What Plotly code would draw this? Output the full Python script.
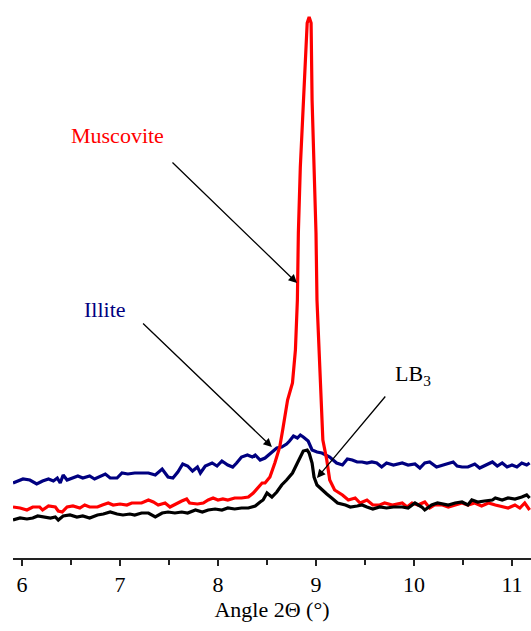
import plotly.graph_objects as go

# ---- data (angle 2theta in degrees, intensity in arbitrary units) ----
illite_x = [5.908, 6.01, 6.08, 6.15, 6.21, 6.27, 6.32, 6.36, 6.39, 6.42, 6.46, 6.52, 6.57, 6.62, 6.69, 6.74,
            6.80, 6.85, 6.90, 6.97, 7.02, 7.08, 7.15, 7.29, 7.36, 7.43, 7.49, 7.54, 7.59, 7.64, 7.69, 7.74,
            7.79, 7.82, 7.87, 7.94, 7.99, 8.04, 8.10, 8.15, 8.19, 8.24, 8.30, 8.35, 8.38, 8.43, 8.48, 8.55,
            8.60, 8.65, 8.70, 8.73, 8.77, 8.81, 8.84, 8.87, 8.92, 8.96, 9.01, 9.06, 9.11, 9.14, 9.21, 9.27,
            9.32, 9.37, 9.42, 9.47, 9.52, 9.57, 9.62, 9.67, 9.72, 9.79, 9.88, 9.94, 10.01, 10.06, 10.11,
            10.16, 10.23, 10.29, 10.35, 10.40, 10.44, 10.49, 10.55, 10.62, 10.67, 10.74, 10.80, 10.85,
            10.90, 10.95, 11.00, 11.05, 11.10, 11.15, 11.18]
illite_y = [75, 79, 78, 74, 77, 79, 77, 80, 75, 83, 78, 80, 82, 80, 82, 79,
            82, 84, 80, 80, 85, 84, 85, 85, 83, 89, 81, 80, 86, 94, 92, 87,
            91, 85, 92, 95, 92, 97, 93, 91, 95, 101, 103, 101, 103, 98, 100, 106,
            110, 111, 114, 117, 122, 120, 123, 121, 117, 108, 106, 105, 103, 101, 95, 93,
            99, 98, 96, 96, 95, 96, 95, 91, 95, 93, 95, 93, 94, 90, 95,
            96, 91, 93, 95, 96, 92, 91, 91, 94, 90, 93, 96, 92,
            95, 91, 93, 91, 95, 93, 95]

muscovite_x = [5.908, 5.98, 6.05, 6.11, 6.18, 6.21, 6.27, 6.34, 6.37, 6.41, 6.46, 6.52, 6.59, 6.64, 6.69,
               6.77, 6.82, 6.88, 6.93, 7.00, 7.07, 7.12, 7.18, 7.22, 7.29, 7.34, 7.39, 7.46, 7.51, 7.58,
               7.63, 7.68, 7.71, 7.79, 7.85, 7.90, 7.95, 8.00, 8.05, 8.10, 8.17, 8.24, 8.31, 8.36, 8.41,
               8.45, 8.48, 8.53, 8.58, 8.63, 8.66, 8.71, 8.76, 8.79, 8.81, 8.82, 8.84, 8.87, 8.89, 8.91,
               8.93, 8.95, 8.96, 8.98, 9.00, 9.01, 9.03, 9.05, 9.07, 9.11, 9.14, 9.19, 9.27, 9.33, 9.40,
               9.45, 9.52, 9.58, 9.65, 9.70, 9.78, 9.88, 9.93, 9.98, 10.04, 10.11, 10.16, 10.21, 10.29,
               10.35, 10.42, 10.49, 10.55, 10.62, 10.69, 10.76, 10.83, 10.90, 10.96, 11.03, 11.08, 11.13, 11.18]
muscovite_y = [51, 50, 48, 51, 51, 48, 52, 51, 47, 46, 51, 52, 50, 53, 51,
               51, 53, 55, 53, 54, 53, 55, 55, 55, 58, 56, 53, 55, 51, 55,
               57, 59, 55, 54, 55, 58, 60, 58, 59, 58, 60, 60, 61, 65, 70,
               75, 75, 81, 95, 111, 128, 158, 175, 208, 258, 325, 391, 458, 508, 535,
               541, 535, 458, 391, 325, 258, 208, 158, 118, 98, 78, 68, 63, 58, 60,
               55, 58, 53, 53, 55, 53, 55, 51, 55, 53, 56, 50, 53, 53,
               51, 53, 55, 53, 55, 52, 55, 53, 51, 50, 53, 50, 55, 48]

lb3_x = [5.908, 5.98, 6.05, 6.11, 6.16, 6.21, 6.29, 6.34, 6.37, 6.42, 6.49, 6.56, 6.62, 6.69, 6.77,
         6.83, 6.90, 6.97, 7.03, 7.10, 7.15, 7.22, 7.29, 7.36, 7.43, 7.49, 7.56, 7.63, 7.69, 7.77,
         7.84, 7.90, 7.97, 8.04, 8.10, 8.17, 8.24, 8.31, 8.38, 8.43, 8.46, 8.50, 8.55, 8.60, 8.65,
         8.70, 8.76, 8.81, 8.84, 8.87, 8.91, 8.93, 8.96, 8.98, 9.01, 9.06, 9.11, 9.16, 9.22, 9.30,
         9.35, 9.42, 9.47, 9.52, 9.58, 9.65, 9.72, 9.79, 9.88, 9.94, 10.01, 10.08, 10.11, 10.18,
         10.24, 10.35, 10.42, 10.49, 10.55, 10.59, 10.65, 10.72, 10.80, 10.83, 10.90, 10.96, 11.03,
         11.10, 11.15, 11.18]
lb3_y = [38, 40, 39, 40, 42, 41, 40, 41, 38, 42, 43, 41, 42, 40, 43,
         44, 46, 44, 43, 44, 43, 45, 45, 41, 45, 46, 45, 46, 45, 48,
         46, 48, 49, 48, 50, 49, 50, 50, 52, 56, 58, 65, 61, 66, 73,
         78, 85, 95, 101, 107, 108, 105, 95, 81, 73, 68, 64, 60, 55, 53,
         51, 52, 53, 51, 49, 51, 50, 51, 51, 50, 55, 51, 48, 53,
         55, 53, 55, 56, 53, 58, 56, 57, 58, 60, 58, 60, 59,
         61, 63, 60]

x_ticks = [6, 7, 8, 9, 10, 11]
x_title = "Angle 2Θ (°)"

FONT = "Liberation Serif"

fig = go.Figure()
fig.add_trace(go.Scatter(x=illite_x, y=illite_y, mode="lines", name="Illite",
                         line=dict(color="#000080", width=3.2)))
fig.add_trace(go.Scatter(x=muscovite_x, y=muscovite_y, mode="lines", name="Muscovite",
                         line=dict(color="#FF0000", width=3.2)))
fig.add_trace(go.Scatter(x=lb3_x, y=lb3_y, mode="lines", name="LB3",
                         line=dict(color="#000000", width=3.2)))

arrow = dict(showarrow=True, text="", axref="x", ayref="y", arrowhead=2, arrowsize=1.3,
             arrowwidth=1.3, arrowcolor="black", standoff=0)
fig.add_annotation(x=8.806, y=275, ax=7.52, ay=397, **arrow)
fig.add_annotation(x=8.55, y=111, ax=7.22, ay=236, **arrow)
fig.add_annotation(x=9.01, y=80, ax=9.72, ay=163, **arrow)

fig.add_annotation(x=6.97, y=423, text="Muscovite", showarrow=False,
                   font=dict(family=FONT, size=22, color="#FF0000"))
fig.add_annotation(x=6.85, y=249, text="Illite", showarrow=False,
                   font=dict(family=FONT, size=22, color="#000080"))
fig.add_annotation(x=9.786, y=183, text="LB<sub>3</sub>", showarrow=False, xanchor="left",
                   font=dict(family=FONT, size=22, color="#000000"))

fig.update_layout(
    width=531, height=631,
    margin=dict(l=13, r=0, t=0, b=73),
    paper_bgcolor="white", plot_bgcolor="white",
    showlegend=False,
    font=dict(family=FONT, size=22, color="black"),
    xaxis=dict(range=[5.908, 11.194], tickvals=x_ticks, ticktext=[str(t) for t in x_ticks],
               showgrid=False, zeroline=False, showline=True, linecolor="#222", linewidth=1.5,
               ticks="outside", ticklen=6, tickwidth=1.5, tickcolor="#222",
               minor=dict(dtick=0.5, ticks="outside", ticklen=5, tickwidth=1.5, tickcolor="#222"),
               ticklabeloverflow="allow",
               tickfont=dict(family=FONT, size=22, color="black"),
               title=dict(text=x_title, standoff=2, font=dict(family=FONT, size=22, color="black"))),
    yaxis=dict(range=[0, 558], visible=False),
)

fig.write_html("out.html")
